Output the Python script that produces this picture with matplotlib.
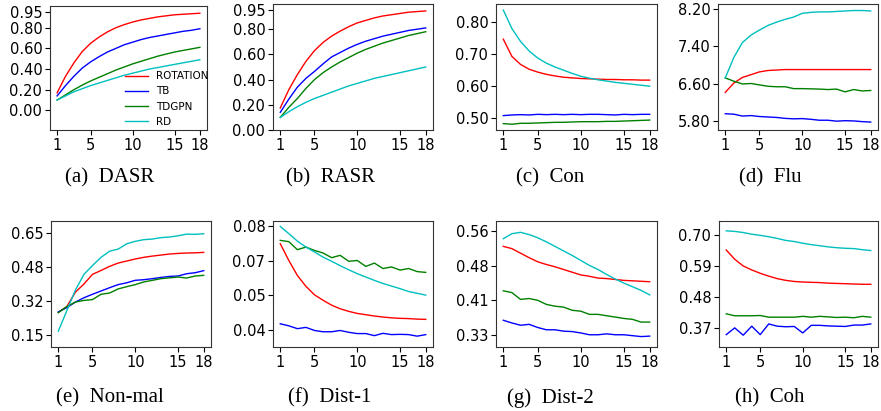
import matplotlib
matplotlib.use("Agg")
import matplotlib.pyplot as plt
import numpy as np

steps = list(range(1, 19))
methods = ["ROTATION", "TB", "TDGPN", "RD"]
colors = ["red", "blue", "green", "c"]

dasr = {
    "ROTATION": [0.17, 0.33, 0.46, 0.57, 0.65, 0.71, 0.76, 0.80, 0.83, 0.855, 0.875, 0.89, 0.905, 0.915, 0.925, 0.93, 0.935, 0.94],
    "TB": [0.14, 0.24, 0.33, 0.41, 0.47, 0.52, 0.565, 0.60, 0.635, 0.66, 0.685, 0.705, 0.72, 0.735, 0.75, 0.765, 0.775, 0.79],
    "TDGPN": [0.10, 0.15, 0.20, 0.245, 0.285, 0.32, 0.355, 0.39, 0.42, 0.45, 0.475, 0.50, 0.525, 0.545, 0.565, 0.58, 0.595, 0.61],
    "RD": [0.10, 0.14, 0.18, 0.21, 0.24, 0.265, 0.29, 0.315, 0.34, 0.36, 0.38, 0.40, 0.415, 0.43, 0.445, 0.46, 0.475, 0.49],
}
rasr = {
    "ROTATION": [0.175, 0.32, 0.44, 0.545, 0.63, 0.695, 0.745, 0.785, 0.82, 0.85, 0.87, 0.89, 0.905, 0.915, 0.925, 0.935, 0.94, 0.945],
    "TB": [0.14, 0.245, 0.34, 0.41, 0.465, 0.525, 0.58, 0.615, 0.65, 0.68, 0.705, 0.725, 0.745, 0.76, 0.775, 0.79, 0.80, 0.81],
    "TDGPN": [0.10, 0.18, 0.25, 0.33, 0.40, 0.455, 0.50, 0.54, 0.575, 0.61, 0.64, 0.665, 0.69, 0.71, 0.73, 0.75, 0.765, 0.78],
    "RD": [0.10, 0.145, 0.185, 0.22, 0.25, 0.275, 0.30, 0.325, 0.35, 0.37, 0.39, 0.41, 0.425, 0.44, 0.455, 0.47, 0.485, 0.50],
}
con = {
    "ROTATION": [0.747, 0.693, 0.668, 0.653, 0.644, 0.637, 0.632, 0.628, 0.626, 0.624, 0.623, 0.622, 0.621, 0.621, 0.620, 0.620, 0.619, 0.619],
    "TB": [0.508, 0.510, 0.511, 0.510, 0.512, 0.511, 0.512, 0.511, 0.512, 0.511, 0.512, 0.512, 0.511, 0.510, 0.512, 0.511, 0.512, 0.512],
    "TDGPN": [0.483, 0.481, 0.484, 0.484, 0.485, 0.486, 0.487, 0.487, 0.488, 0.489, 0.489, 0.489, 0.490, 0.490, 0.491, 0.492, 0.493, 0.494],
    "RD": [0.838, 0.78, 0.74, 0.71, 0.688, 0.672, 0.66, 0.65, 0.64, 0.631, 0.625, 0.62, 0.616, 0.612, 0.609, 0.606, 0.603, 0.600],
}
flu = {
    "ROTATION": [6.41, 6.61, 6.73, 6.79, 6.85, 6.88, 6.89, 6.90, 6.90, 6.90, 6.90, 6.90, 6.90, 6.90, 6.90, 6.90, 6.90, 6.90],
    "TB": [5.95, 5.94, 5.90, 5.91, 5.89, 5.88, 5.87, 5.85, 5.84, 5.845, 5.83, 5.81, 5.81, 5.79, 5.80, 5.795, 5.78, 5.77],
    "TDGPN": [6.72, 6.65, 6.59, 6.60, 6.57, 6.54, 6.53, 6.53, 6.49, 6.49, 6.485, 6.48, 6.47, 6.48, 6.42, 6.47, 6.44, 6.45],
    "RD": [6.72, 7.16, 7.48, 7.64, 7.75, 7.85, 7.92, 7.98, 8.03, 8.11, 8.13, 8.14, 8.14, 8.15, 8.16, 8.17, 8.17, 8.16],
}
nonmal = {
    "ROTATION": [0.262, 0.29, 0.36, 0.40, 0.447, 0.466, 0.486, 0.502, 0.512, 0.522, 0.53, 0.536, 0.541, 0.546, 0.549, 0.551, 0.552, 0.554],
    "TB": [0.264, 0.285, 0.312, 0.333, 0.35, 0.366, 0.382, 0.397, 0.406, 0.418, 0.421, 0.426, 0.432, 0.437, 0.439, 0.45, 0.455, 0.465],
    "TDGPN": [0.26, 0.29, 0.312, 0.32, 0.324, 0.35, 0.356, 0.376, 0.387, 0.397, 0.41, 0.418, 0.426, 0.43, 0.434, 0.429, 0.439, 0.442],
    "RD": [0.17, 0.27, 0.37, 0.447, 0.49, 0.53, 0.56, 0.57, 0.596, 0.608, 0.616, 0.619, 0.626, 0.629, 0.635, 0.643, 0.642, 0.645],
}
dist1 = {
    "ROTATION": [0.0733, 0.0668, 0.061, 0.0568, 0.0535, 0.0514, 0.0495, 0.0481, 0.0471, 0.0463, 0.0458, 0.0453, 0.0449, 0.0446, 0.0444, 0.0443, 0.0441, 0.044],
    "TB": [0.0423, 0.0415, 0.0404, 0.0409, 0.0397, 0.0392, 0.0392, 0.0397, 0.039, 0.0385, 0.0385, 0.0377, 0.0386, 0.0381, 0.0382, 0.0381, 0.0375, 0.0381],
    "TDGPN": [0.0746, 0.0741, 0.071, 0.072, 0.0707, 0.0697, 0.0679, 0.0688, 0.0665, 0.0668, 0.0645, 0.0658, 0.0637, 0.0643, 0.0631, 0.0637, 0.0625, 0.0622],
    "RD": [0.080, 0.0772, 0.0743, 0.072, 0.0701, 0.0681, 0.0665, 0.0648, 0.0632, 0.0617, 0.0604, 0.0591, 0.0579, 0.0569, 0.0559, 0.0548, 0.0541, 0.0534],
}
dist2 = {
    "ROTATION": [0.526, 0.521, 0.511, 0.501, 0.492, 0.486, 0.481, 0.475, 0.469, 0.463, 0.46, 0.456, 0.455, 0.453, 0.451, 0.45, 0.449, 0.448],
    "TB": [0.363, 0.357, 0.352, 0.354, 0.347, 0.342, 0.342, 0.339, 0.338, 0.335, 0.331, 0.331, 0.333, 0.331, 0.331, 0.329, 0.327, 0.328],
    "TDGPN": [0.428, 0.424, 0.409, 0.411, 0.407, 0.398, 0.394, 0.392, 0.385, 0.383, 0.376, 0.376, 0.373, 0.37, 0.367, 0.365, 0.359, 0.359],
    "RD": [0.543, 0.554, 0.557, 0.552, 0.545, 0.536, 0.526, 0.516, 0.506, 0.495, 0.484, 0.475, 0.464, 0.454, 0.445, 0.437, 0.429, 0.419],
}
coh = {
    "ROTATION": [0.648, 0.615, 0.591, 0.577, 0.565, 0.555, 0.546, 0.54, 0.536, 0.534, 0.533, 0.532, 0.53, 0.529, 0.528, 0.527, 0.526, 0.526],
    "TB": [0.347, 0.371, 0.345, 0.377, 0.347, 0.385, 0.377, 0.375, 0.376, 0.353, 0.38, 0.38, 0.378, 0.377, 0.376, 0.381, 0.381, 0.385],
    "TDGPN": [0.421, 0.414, 0.414, 0.414, 0.415, 0.409, 0.409, 0.409, 0.409, 0.412, 0.409, 0.412, 0.41, 0.408, 0.409, 0.407, 0.412, 0.409],
    "RD": [0.716, 0.714, 0.71, 0.704, 0.70, 0.695, 0.689, 0.682, 0.678, 0.672, 0.667, 0.663, 0.659, 0.656, 0.654, 0.653, 0.649, 0.646],
}

captions = ["(a)  DASR", "(b)  RASR", "(c)  Con", "(d)  Flu",
            "(e)  Non-mal", "(f)  Dist-1", "(g)  Dist-2", "(h)  Coh"]
panels = [dasr, rasr, con, flu, nonmal, dist1, dist2, coh]
yticks = [
    [0.00, 0.20, 0.40, 0.60, 0.80, 0.95],
    [0.00, 0.20, 0.40, 0.60, 0.80, 0.95],
    [0.50, 0.60, 0.70, 0.80],
    [5.80, 6.60, 7.40, 8.20],
    [0.15, 0.3167, 0.4833, 0.65],
    [0.04, 0.0533, 0.0667, 0.08],
    [0.33, 0.4067, 0.4833, 0.56],
    [0.37, 0.48, 0.59, 0.70],
]
ylims = [(-0.19, 1.01), (0.0, 1.0), (0.463, 0.857), (5.60, 8.31),
         (0.093, 0.707), (0.0333, 0.0821), (0.304, 0.582), (0.303, 0.751)]
xticks = [1, 5, 10, 15, 18]

W, H = 881, 411
fig = plt.figure(figsize=(W / 100, H / 100), dpi=100)

# axes boxes in pixels: left, right, top, bottom
boxes = [
    (50, 207, 6, 130), (273, 433, 4, 130), (496, 657, 4, 130), (718, 878, 4, 130),
    (51, 211, 221, 347), (273, 433, 221, 347), (496, 657, 221, 347), (719, 878, 221, 347),
]
cap_y = [178, 178, 178, 178, 398, 398, 398, 398]
cap_x = [110, 330, 550, 770, 110, 330, 550, 770]

for i, (data, box) in enumerate(zip(panels, boxes)):
    l, r, t, b = box
    ax = fig.add_axes([l / W, 1 - b / H, (r - l) / W, (b - t) / H])
    for m, c in zip(methods, colors):
        ax.plot(steps, data[m], color=c, lw=1.0, label=m)
    ax.set_xticks(xticks)
    ax.set_yticks(yticks[i])
    ax.set_yticklabels(["%.2f" % v for v in yticks[i]])
    ax.set_ylim(*ylims[i])
    ax.tick_params(labelsize=10.5, length=3.5, width=0.8, pad=2)
    for s in ax.spines.values():
        s.set_linewidth(0.8)
        s.set_color("#333333")
    if i == 0:
        ax.legend(loc="lower right", frameon=False, fontsize=7.5,
                  handlelength=2.2, labelspacing=0.5, borderpad=0.2,
                  borderaxespad=0.1, handletextpad=0.8,
                  bbox_to_anchor=(1.03, -0.0))
    fig.text(cap_x[i] / W, 1 - cap_y[i] / H, captions[i], ha="center", va="center",
             fontsize=15, family="Liberation Serif")

fig.savefig("out.png", dpi=100)
